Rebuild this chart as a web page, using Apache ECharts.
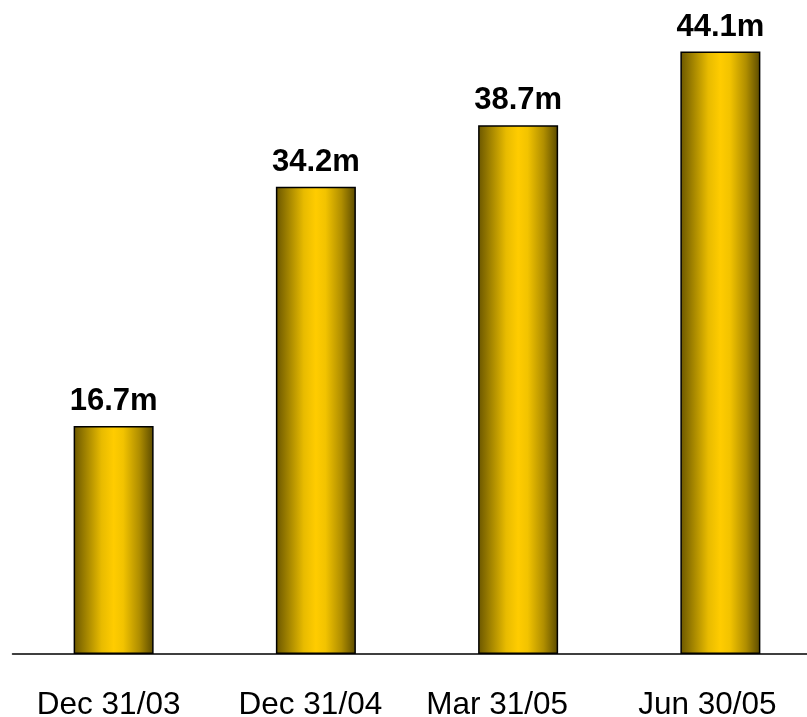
<!DOCTYPE html>
<html><head><meta charset="utf-8">
<script src="https://cdn.jsdelivr.net/npm/echarts@6/dist/echarts.min.js"></script>
<style>html,body{margin:0;padding:0;background:#fff}#c{width:807px;height:717px}</style>
</head><body><div id="c"></div>
<script>
const categories = ["Dec 31/03", "Dec 31/04", "Mar 31/05", "Jun 30/05"];
const values = [16.7, 34.2, 38.7, 44.1];
const valueLabels = ["16.7m", "34.2m", "38.7m", "44.1m"];

// style: leftward nudge (px) of each category label, as in the reference
const labelNudge = [5, 5.5, 21, 13];

const chart = echarts.init(document.getElementById('c'));
const grad = new echarts.graphic.LinearGradient(0, 0, 1, 0, [
  {offset: 0, color: '#6a5600'},
  {offset: 0.15, color: '#a08200'},
  {offset: 0.35, color: '#e8bb00'},
  {offset: 0.5, color: '#ffcc00'},
  {offset: 0.62, color: '#f2c300'},
  {offset: 0.82, color: '#b08e00'},
  {offset: 1, color: '#5a4a00'}
]);
const rich = {};
labelNudge.forEach((n, i) => {
  rich['s' + i] = {color: '#000', fontSize: 31.5, fontFamily: 'Liberation Sans, Arial', padding: [0, 2 * n, 0, 0]};
});
chart.setOption({
  animation: false,
  grid: {left: 12.5, top: 12, width: 809, bottom: 63, containLabel: false, outerBoundsMode: 'none'},
  xAxis: {
    type: 'category', data: categories,
    axisLine: {lineStyle: {color: '#000', width: 1.5}},
    axisTick: {show: false},
    axisLabel: {
      interval: 0, hideOverlap: false,
      color: '#000', fontSize: 31.5, fontFamily: 'Liberation Sans, Arial', margin: 35,
      formatter: (v, i) => '{s' + i + '|' + v + '}',
      rich: rich
    }
  },
  yAxis: {type: 'value', min: 0, max: 47, show: false, splitLine: {show: false}},
  series: [{
    type: 'bar', data: values, barWidth: 80,
    itemStyle: {color: grad, borderColor: '#000', borderWidth: 1.5},
    label: {
      show: true, position: 'top', distance: 9, color: '#000',
      fontSize: 31, fontWeight: 'bold', fontFamily: 'Liberation Sans, Arial',
      formatter: p => valueLabels[p.dataIndex]
    }
  }]
});
</script></body></html>
